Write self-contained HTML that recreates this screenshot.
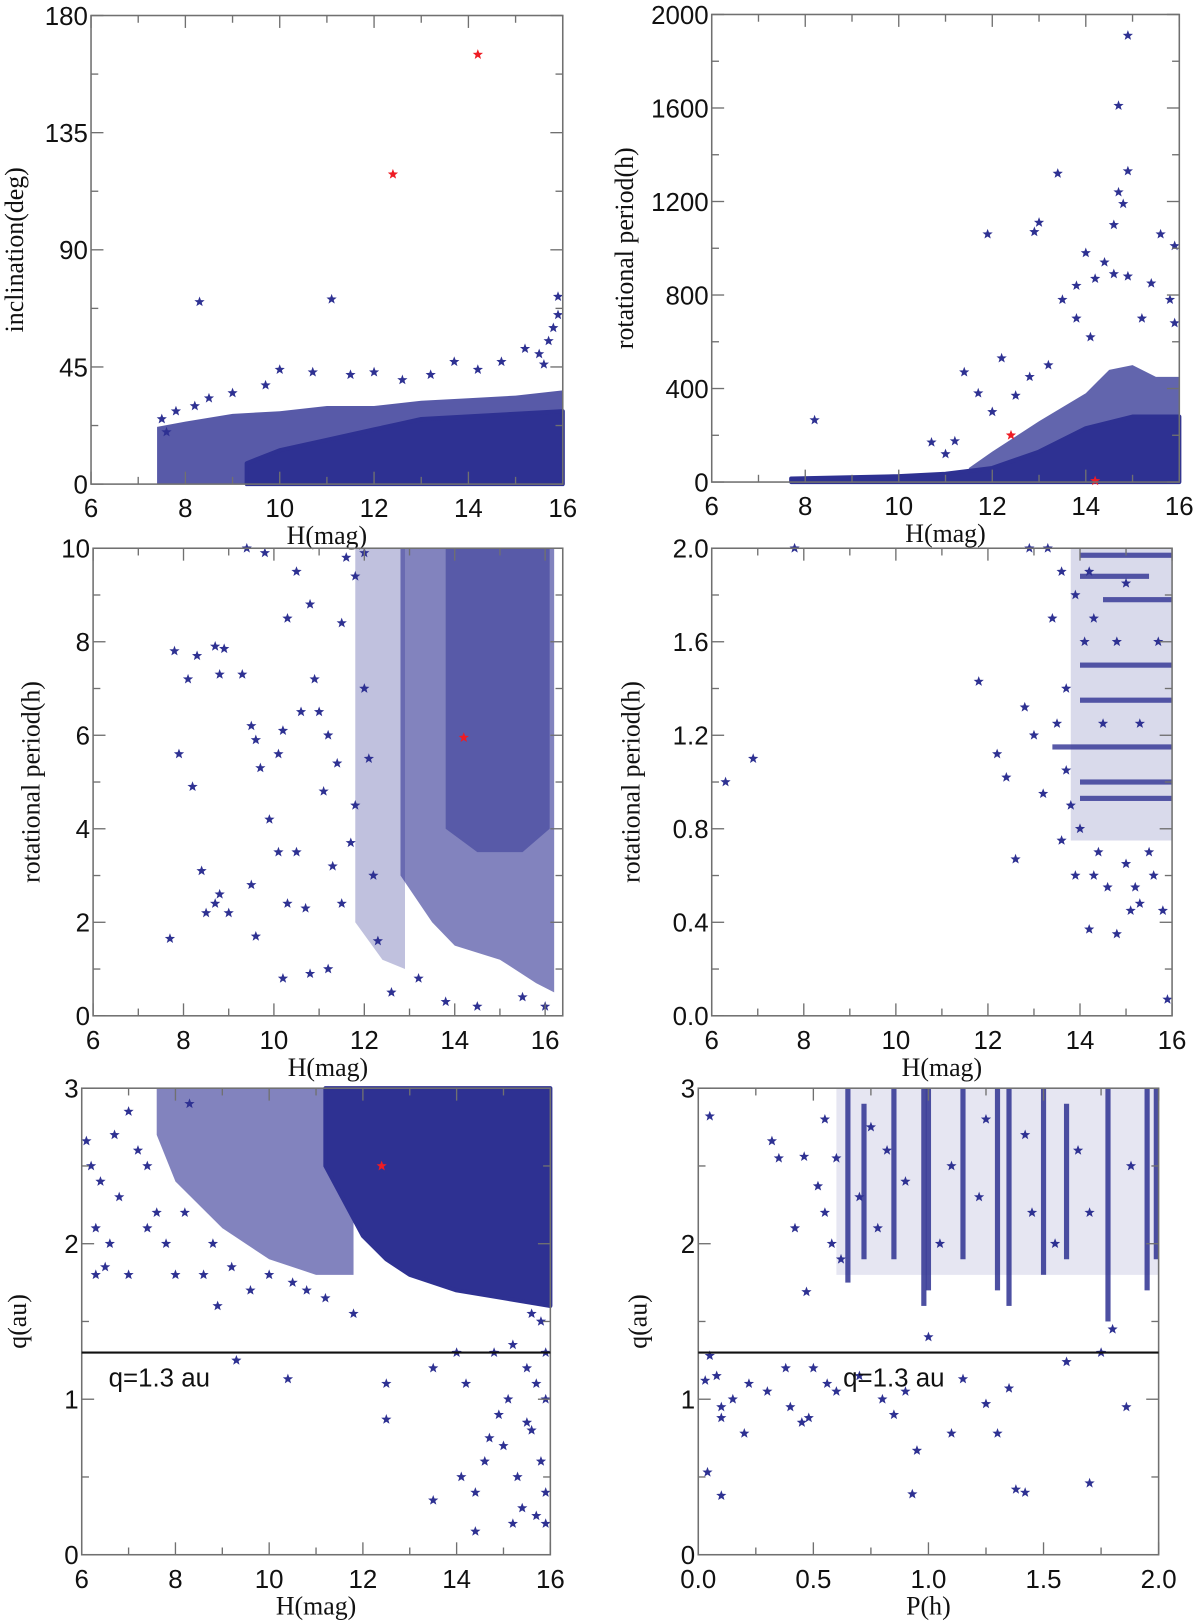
<!DOCTYPE html>
<html><head><meta charset="utf-8"><style>
html,body{margin:0;padding:0;background:#fff;}
svg{display:block;}
.tk{font-family:"Liberation Sans","DejaVu Sans",sans-serif;font-size:25px;fill:#111;}
.lb{font-family:"Liberation Serif",serif;font-size:25px;fill:#111;}
</style></head><body>
<svg id="chart" width="1200" height="1623" viewBox="0 0 1160 1569" preserveAspectRatio="none" xmlns="http://www.w3.org/2000/svg"></svg>
<script>
// ---------- DATA ----------
// Panel 1: H vs inclination
const p1Stars=[[8.3,70],[11.1,71],[15.9,72],[15.9,65],[15.8,60],[15.7,55],[15.5,50],[13.7,47],[10,44],[10.7,43],[12,43],[11.5,42],[14.7,47],[15.2,52],[9.7,38],[9.0,35],[8.5,33],[7.5,25],[7.6,20],[7.8,28],[8.2,30],[12.6,40],[13.2,42],[14.2,44],[15.6,46]];
const p1Red=[[14.2,165],[12.4,119]];
const p1HaloX=[7.4,8,9,10,11,12,13,14,15,16];
const p1HaloTop=[22,24,27,28,30,30,32,33,34,36];
const p1CoreX=[9.3,10,11,12,12.5,13,14,15,16];
const p1CoreTop=[8,13,17,21,23,25,26,27,28];
// Panel 2: H vs rotational period
const p2Stars=[[14.9,1910],[14.7,1610],[14.9,1330],[14.7,1240],[14.8,1190],[14.6,1100],[13.4,1320],[13.0,1110],[12.9,1070],[11.9,1060],[15.6,1060],[14.0,980],[14.4,940],[15.9,1010],[14.6,890],[14.9,880],[15.8,780],[15.9,680],[15.4,850],[8.2,265],[11.4,470],[12.2,530],[11.7,380],[10.7,170],[11.2,175],[13.5,780],[13.8,840],[14.2,870],[12.5,370],[13.2,500],[12.8,450],[13.8,700],[15.2,700],[14.1,620],[12.0,300],[11.0,120]];
const p2Red=[[12.4,200],[14.2,5]];
const p2HaloX=[11.5,12,13,14,14.5,15,15.5,16];
const p2HaloTop=[60,130,260,380,480,500,450,450];
const p2CoreX=[7.7,10,11,12,13,14,15,16];
const p2CoreTop=[15,25,35,60,130,230,280,280];
// Panel 3: H vs rotational period (0-10 h)
const p3Stars=[[7.8,7.8],[8.1,7.2],[8.3,7.7],[8.7,7.9],[8.9,7.85],[7.9,5.6],[8.2,4.9],[8.4,3.1],[8.5,2.2],[8.7,2.4],[8.8,2.6],[9.0,2.2],[7.7,1.65],[8.8,7.3],[9.3,7.3],[9.5,6.2],[9.6,5.9],[9.7,5.3],[9.9,4.2],[10.1,5.6],[10.2,6.1],[9.6,1.7],[9.5,2.8],[10.1,3.5],[10.3,2.4],[10.2,0.8],[10.5,3.5],[10.7,2.3],[9.4,10],[9.8,9.9],[10.5,9.5],[10.3,8.5],[10.8,8.8],[10.9,7.2],[11.0,6.5],[11.2,6.0],[11.4,5.4],[11.1,4.8],[10.8,0.9],[11.2,1.0],[11.5,2.4],[11.7,3.7],[11.8,4.5],[11.5,8.4],[11.8,9.4],[12.0,7.0],[12.1,5.5],[12.2,3.0],[12.3,1.6],[11.6,9.8],[12.0,9.9],[10.6,6.5],[11.3,3.2],[12.6,0.5],[13.2,0.8],[13.8,0.3],[14.5,0.2],[15.5,0.4],[16.0,0.2]];
const p3Red=[[14.2,5.95]];
const p3HaloX=[11.8,12.4,12.9];
const p3HaloLo=[2,1.2,1];
const p3HaloHi=[10,10,10];
const p3CoreX=[12.8,13.5,14,15,15.8,16.2];
const p3CoreLo=[3,2,1.5,1.2,0.7,0.5];
const p3CoreHi=[10,10,10,10,10,10];
const p3DenseX=[13.8,14.5,15.5,16.1];
const p3DenseLo=[4,3.5,3.5,4];
const p3DenseHi=[10,10,10,10];
// Panel 4: H vs rotational period (0-2 h)
const p4Stars=[[6.3,1.0],[6.9,1.1],[7.8,2.0],[11.8,1.43],[12.2,1.12],[12.4,1.02],[12.6,0.67],[12.9,2.0],[13.3,2.0],[13.4,1.7],[12.8,1.32],[13.0,1.2],[13.2,0.95],[13.6,0.75],[13.9,0.6],[14.2,0.37],[14.8,0.35],[14.6,0.55],[15.1,0.45],[15.3,0.48],[15.5,0.7],[15.8,0.45],[15.9,0.07],[14.0,0.8],[14.4,0.7],[15.0,0.65],[15.6,0.6],[13.7,1.4],[13.8,0.9],[14.3,0.6],[15.2,0.55],[13.6,1.9],[13.9,1.8],[14.1,1.6],[13.5,1.25],[13.7,1.05],[14.3,1.7],[14.8,1.6],[15.3,1.25],[14.5,1.25],[15.7,1.6],[14.2,1.9],[15.0,1.85]];
const p4StreakY=[1.97,1.88,1.78,1.5,1.35,1.15,1.0,0.93];
const p4StreakFrom=[14.0,14.0,14.5,14.0,14.0,13.4,14.0,14.0];
const p4StreakTo=[16,15.5,16,16,16,16,16,16];
const p4FillX=[13.8,16];
const p4FillLo=[0.75,0.75];
const p4FillHi=[2.0,2.0];
// Panel 5: H vs q
const p5Stars=[[15.8,1.5],[15.9,1.3],[15.7,1.1],[15.5,1.2],[15.9,1.0],[15.2,1.35],[14.8,1.3],[15.6,0.8],[15.8,0.6],[15.9,0.4],[15.7,0.25],[15.9,0.2],[14.4,0.4],[14.4,0.15],[13.5,0.35],[14.1,0.5],[14.6,0.6],[14.9,0.9],[15.0,0.7],[15.3,0.5],[15.4,0.3],[14.2,1.1],[14.0,1.3],[13.5,1.2],[12.5,1.1],[12.5,0.87],[10.4,1.13],[9.3,1.25],[15.6,1.55],[15.1,1.0],[15.5,0.85],[14.7,0.75],[15.2,0.2],[6.1,2.66],[6.2,2.5],[6.3,2.1],[6.3,1.8],[6.5,1.85],[6.6,2.0],[6.8,2.3],[7.0,2.85],[7.0,1.8],[7.4,2.5],[7.6,2.2],[7.8,2.0],[7.2,2.6],[6.7,2.7],[8.0,1.8],[8.6,1.8],[8.9,1.6],[9.6,1.7],[10.5,1.75],[11.2,1.65],[11.8,1.55],[8.3,2.9],[7.4,2.1],[6.4,2.4],[8.2,2.2],[8.8,2.0],[9.2,1.85],[10.0,1.8],[10.8,1.7]];
const p5Red=[[12.4,2.5]];
const p5HaloX=[7.6,8,9,10,11,11.8];
const p5HaloLo=[2.7,2.4,2.1,1.9,1.8,1.8];
const p5HaloHi=[3,3,3,3,3,3];
const p5CoreX=[11.2,12,12.5,13,14,15,16];
const p5CoreLo=[2.5,2.05,1.9,1.8,1.7,1.65,1.6];
const p5CoreHi=[3,3,3,3,3,3,3];
const p5Line=1.3;
// Panel 6: P vs q
const p6Stars=[[0.05,2.82],[0.03,1.12],[0.05,1.28],[0.08,1.15],[0.1,0.95],[0.1,0.88],[0.15,1.0],[0.2,0.78],[0.22,1.1],[0.04,0.53],[0.1,0.38],[0.32,2.66],[0.35,2.55],[0.38,1.2],[0.3,1.05],[0.4,0.95],[0.45,0.85],[0.48,0.88],[0.5,1.2],[0.47,1.69],[0.46,2.56],[0.52,2.37],[0.55,2.2],[0.6,2.55],[0.56,1.1],[0.6,1.05],[0.7,1.15],[0.8,1.0],[0.85,0.9],[0.9,1.05],[0.95,0.67],[0.93,0.39],[1.0,1.4],[1.1,0.78],[1.15,1.13],[1.25,0.97],[1.3,0.78],[1.35,1.07],[1.38,0.42],[1.42,0.4],[1.6,1.24],[1.7,0.46],[1.86,0.95],[1.8,1.45],[1.75,1.3],[0.55,2.8],[0.42,2.1],[0.58,2.0],[0.62,1.9],[0.7,2.3],[0.75,2.75],[1.1,2.5],[1.45,2.2],[1.65,2.6],[0.78,2.1],[0.9,2.4],[1.05,2.0],[1.22,2.3],[1.42,2.7],[1.55,2.0],[1.7,2.2],[1.88,2.5],[1.25,2.8],[0.82,2.6]];
const p6StreakX=[0.65,0.72,0.85,0.98,1.0,1.15,1.3,1.35,1.5,1.6,1.78,1.95,1.99];
const p6StreakLo=[1.75,1.9,1.9,1.6,1.7,1.9,1.7,1.6,1.8,1.9,1.5,1.7,1.9];
const p6StreakHi=[3,2.9,3,3,3,3,3,3,3,2.9,3,3,3];
const p6FillX=[0.6,2.0];
const p6FillLo=[1.8,1.8];
const p6FillHi=[3,3];
const p6Line=1.3;

// ---------- DRAWING ----------
const NS='http://www.w3.org/2000/svg';
const svg=document.getElementById('chart');
const BLUE='#2e3192', RED='#ee1c24';
function mk(tag,attrs,parent){const e=document.createElementNS(NS,tag);for(const k in attrs)e.setAttribute(k,attrs[k]);(parent||svg).appendChild(e);return e;}
function axes(c){
  const sx=v=>c.x0+(v-c.xmin)/(c.xmax-c.xmin)*(c.x1-c.x0);
  const sy=v=>c.y1-(v-c.ymin)/(c.ymax-c.ymin)*(c.y1-c.y0);
  return {sx,sy};
}
function starPts(cx,cy,r){let p=[];for(let i=0;i<10;i++){const a=-Math.PI/2+i*Math.PI/5;const rr=i%2?r*0.42:r;p.push((cx+rr*Math.cos(a)).toFixed(1)+','+(cy+rr*Math.sin(a)).toFixed(1));}return p.join(' ');}
function drawStars(g,pts,A,color,name){
  pts.forEach(p=>{
    const s=mk('polygon',{points:starPts(A.sx(p[0]),A.sy(p[1]),5.2),fill:color},g);
    
    
  });
}
function band(g,xs,lo,hi,A,op,name){
  let pts=[];
  for(let i=0;i<xs.length;i++)pts.push(A.sx(xs[i])+','+A.sy(hi[i]));
  for(let i=xs.length-1;i>=0;i--)pts.push(A.sx(xs[i])+','+A.sy(lo[i]));
  const at={points:pts.join(' '),fill:BLUE,'fill-opacity':op};
  if(op>=1){at.stroke=BLUE;at['stroke-width']=4;at['stroke-linejoin']='round';}
  const p=mk('polygon',at,g);
  
  
}
function frame(c,A,id){
  const g=mk('g',{});
  
  
  mk('rect',{x:c.x0,y:c.y0,width:c.x1-c.x0,height:c.y1-c.y0,fill:'none',stroke:'#707070','stroke-width':1.5},g);
  for(let v=c.xmin;v<=c.xmax+1e-9;v+=c.xminor){const X=A.sx(v);const maj=Math.abs(v/c.xmajor-Math.round(v/c.xmajor))<1e-6;const L=maj?12:7;
    mk('line',{x1:X,x2:X,y1:c.y1,y2:c.y1-L,stroke:'#707070','stroke-width':1.3},g);
    mk('line',{x1:X,x2:X,y1:c.y0,y2:c.y0+L,stroke:'#707070','stroke-width':1.3},g);}
  for(let v=c.ymin;v<=c.ymax+1e-9;v+=c.yminor){const Y=A.sy(v);const maj=Math.abs(v/c.ymajor-Math.round(v/c.ymajor))<1e-6;const L=maj?12:7;
    mk('line',{y1:Y,y2:Y,x1:c.x0,x2:c.x0+L,stroke:'#707070','stroke-width':1.3},g);
    mk('line',{y1:Y,y2:Y,x1:c.x1,x2:c.x1-L,stroke:'#707070','stroke-width':1.3},g);}
  c.xt.forEach(v=>{const t=mk('text',{x:A.sx(v),y:c.y1+32,'text-anchor':'middle',class:'tk'},g);t.textContent=c.xfmt(v);
    });
  c.yt.forEach(v=>{const t=mk('text',{x:c.x0-3,y:A.sy(v)+9,'text-anchor':'end',class:'tk'},g);t.textContent=c.yfmt(v);
    });
  const xl=mk('text',{x:(c.x0+c.x1)/2,y:c.y1+58,'text-anchor':'middle',class:'lb'},g);xl.textContent=c.xlabel;
  
  const yx=c.ylx,yy=(c.y0+c.y1)/2;
  const yl=mk('text',{x:yx,y:yy,'text-anchor':'middle',class:'lb',transform:'rotate(-90 '+yx+' '+yy+')'},g);yl.textContent=c.ylabel;
  
}
function range(a,b,s){const r=[];for(let v=a;v<=b+1e-9;v+=s)r.push(+v.toFixed(4));return r;}
const f0=v=>String(v), f1=v=>v.toFixed(1);
const P=[
 {id:'panel-inclination',x0:88,x1:544,y0:15,y1:468,xmin:6,xmax:16,ymin:0,ymax:180,xmajor:2,xminor:1,ymajor:45,yminor:22.5,xt:range(6,16,2),yt:range(0,180,45),xfmt:f0,yfmt:f0,xlabel:'H(mag)',ylabel:'inclination(deg)',ylx:22},
 {id:'panel-period-all',x0:688,x1:1140,y0:14,y1:466,xmin:6,xmax:16,ymin:0,ymax:2000,xmajor:2,xminor:1,ymajor:400,yminor:200,xt:range(6,16,2),yt:range(0,2000,400),xfmt:f0,yfmt:f0,xlabel:'H(mag)',ylabel:'rotational period(h)',ylx:612},
 {id:'panel-period-10h',x0:90,x1:544,y0:530,y1:982,xmin:6,xmax:16.39,ymin:0,ymax:10,xmajor:2,xminor:1,ymajor:2,yminor:1,xt:range(6,16,2),yt:range(0,10,2),xfmt:f0,yfmt:f0,xlabel:'H(mag)',ylabel:'rotational period(h)',ylx:38},
 {id:'panel-period-2h',x0:688,x1:1133,y0:530,y1:982,xmin:6,xmax:16,ymin:0,ymax:2,xmajor:2,xminor:1,ymajor:0.4,yminor:0.2,xt:range(6,16,2),yt:range(0,2,0.4),xfmt:f0,yfmt:f1,xlabel:'H(mag)',ylabel:'rotational period(h)',ylx:618},
 {id:'panel-q-vs-h',x0:79,x1:532,y0:1052,y1:1503,xmin:6,xmax:16,ymin:0,ymax:3,xmajor:2,xminor:1,ymajor:1,yminor:0.5,xt:range(6,16,2),yt:range(0,3,1),xfmt:f0,yfmt:f0,xlabel:'H(mag)',ylabel:'q(au)',ylx:25},
 {id:'panel-q-vs-p',x0:675,x1:1120,y0:1052,y1:1503,xmin:0,xmax:2,ymin:0,ymax:3,xmajor:0.5,xminor:0.25,ymajor:1,yminor:0.5,xt:range(0,2,0.5),yt:range(0,3,1),xfmt:f1,yfmt:f0,xlabel:'P(h)',ylabel:'q(au)',ylx:625}
];
const A=P.map(axes);
function pg(i){const g=mk('g',{});return g;}
// panel 1
let g=pg(0);
band(g,p1HaloX,p1HaloX.map(()=>0),p1HaloTop,A[0],0.8,'halo-region');
band(g,p1CoreX,p1CoreX.map(()=>0),p1CoreTop,A[0],1,'dense-region');
drawStars(g,p1Stars,A[0],BLUE,'asteroid-star');drawStars(g,p1Red,A[0],RED,'retrograde-star');
// panel 2
g=pg(1);
band(g,p2HaloX,p2HaloX.map(()=>0),p2HaloTop,A[1],0.75,'halo-region');
band(g,p2CoreX,p2CoreX.map(()=>0),p2CoreTop,A[1],1,'dense-region');
drawStars(g,p2Stars,A[1],BLUE,'asteroid-star');drawStars(g,p2Red,A[1],RED,'retrograde-star');
// panel 3
g=pg(2);
band(g,p3HaloX,p3HaloLo,p3HaloHi,A[2],0.3,'halo-region');
band(g,p3CoreX,p3CoreLo,p3CoreHi,A[2],0.6,'cloud-region');
band(g,p3DenseX,p3DenseLo,p3DenseHi,A[2],0.5,'dense-region');
drawStars(g,p3Stars,A[2],BLUE,'asteroid-star');drawStars(g,p3Red,A[2],RED,'retrograde-star');
// panel 4
g=pg(3);
band(g,p4FillX,p4FillLo,p4FillHi,A[3],0.18,'scatter-region');
p4StreakY.forEach((y,i)=>{const r=mk('rect',{x:A[3].sx(p4StreakFrom[i]),y:A[3].sy(y)-2.5,width:A[3].sx(p4StreakTo[i])-A[3].sx(p4StreakFrom[i]),height:5,fill:BLUE,'fill-opacity':0.8},g);
 });
drawStars(g,p4Stars,A[3],BLUE,'asteroid-star');
// panel 5
g=pg(4);
band(g,p5HaloX,p5HaloLo,p5HaloHi,A[4],0.6,'halo-region');
band(g,p5CoreX,p5CoreLo,p5CoreHi,A[4],1,'dense-region');
drawStars(g,p5Stars,A[4],BLUE,'asteroid-star');drawStars(g,p5Red,A[4],RED,'retrograde-star');
// panel 6
g=pg(5);
band(g,p6FillX,p6FillLo,p6FillHi,A[5],0.12,'scatter-region');
p6StreakX.forEach((x,i)=>{const r=mk('rect',{x:A[5].sx(x)-2.5,y:A[5].sy(p6StreakHi[i]),width:5,height:A[5].sy(p6StreakLo[i])-A[5].sy(p6StreakHi[i]),fill:BLUE,'fill-opacity':0.85},g);
 });
drawStars(g,p6Stars,A[5],BLUE,'asteroid-star');
// frames
P.forEach((c,i)=>frame(c,A[i],c.id));
// q=1.3 lines
[[4,p5Line],[5,p6Line]].forEach(([i,q])=>{
 const c=P[i];const l=mk('line',{x1:c.x0,x2:c.x1,y1:A[i].sy(q),y2:A[i].sy(q),stroke:'#111','stroke-width':2});
 
 const t=mk('text',{x:i===4?c.x0+26:c.x0+140,y:A[i].sy(q)+33,class:'tk'});t.textContent='q=1.3 au';
 
});
</script>
</body></html>
